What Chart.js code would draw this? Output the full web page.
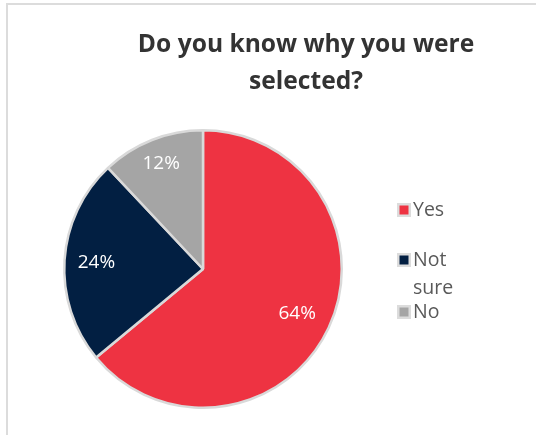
<!DOCTYPE html>
<html>
<head>
<meta charset="utf-8">
<title>Do you know why you were selected?</title>
<script src="https://cdn.jsdelivr.net/npm/chart.js@4/dist/chart.umd.min.js"></script>
<style>
    html, body {
        margin: 0;
        padding: 0;
        background: #ffffff;
        overflow: hidden;
    }
    .frame {
        position: absolute;
        left: 6px;
        top: 3px;
        width: 600px;
        height: 500px;
        border: 2px solid #dcdcdc;
        box-sizing: border-box;
    }
    .chart-wrap {
        position: absolute;
        left: 0;
        top: 0;
        width: 536px;
        height: 435px;
    }
</style>
</head>
<body>
<div class="frame"></div>
<div class="chart-wrap">
    <canvas id="selectedChart" width="536" height="435"></canvas>
</div>

<script>
// Survey answers
const categories = ['Yes', 'Not sure', 'No'];
const shares = [64, 24, 12];
const sliceColors = ['#ee3342', '#021f42', '#a5a5a5'];
const titleLines = ['Do you know why you were', 'selected?'];

const FONT = '"Open Sans", "Noto Sans", sans-serif';

// Percent labels inside each slice
const sliceLabels = {
    id: 'sliceLabels',
    afterDatasetsDraw(chart) {
        const ctx = chart.ctx;
        const meta = chart.getDatasetMeta(0);
        const values = chart.data.datasets[0].data;
        const total = values.reduce((a, b) => a + b, 0);
        const offsets = [0.75, 0.77, 0.82];
        ctx.save();
        ctx.font = '19px ' + FONT;
        ctx.fillStyle = '#ffffff';
        ctx.textAlign = 'center';
        ctx.textBaseline = 'middle';
        meta.data.forEach((arc, i) => {
            const p = arc.getProps(['x', 'y', 'startAngle', 'endAngle', 'outerRadius'], true);
            const mid = (p.startAngle + p.endAngle) / 2;
            const r = p.outerRadius * offsets[i];
            const pct = Math.round(values[i] / total * 100) + '%';
            ctx.fillText(pct, p.x + Math.cos(mid) * r, p.y + Math.sin(mid) * r);
        });
        ctx.restore();
    }
};

// Title, drawn off-centre above the pie and legend
const chartTitle = {
    id: 'chartTitle',
    afterDraw(chart) {
        const ctx = chart.ctx;
        ctx.save();
        ctx.font = 'bold 24.6px ' + FONT;
        ctx.fillStyle = '#333333';
        ctx.textAlign = 'center';
        ctx.textBaseline = 'middle';
        titleLines.forEach((line, i) => {
            ctx.fillText(line, 306, 45 + i * 37);
        });
        ctx.restore();
    }
};

// Legend on the right with wrapped entries
const sideLegend = {
    id: 'sideLegend',
    afterDraw(chart) {
        const ctx = chart.ctx;
        const rowY = [210, 260, 312];
        const boxX = 397;
        const textX = 413;
        const maxW = 45;
        ctx.save();
        ctx.font = '19.5px ' + FONT;
        ctx.textBaseline = 'middle';
        ctx.textAlign = 'left';
        chart.data.labels.forEach((label, i) => {
            const y = rowY[i];
            ctx.fillStyle = '#dcdcdc';
            ctx.fillRect(boxX, y - 7, 14, 14);
            ctx.fillStyle = chart.data.datasets[0].backgroundColor[i];
            ctx.fillRect(boxX + 2.5, y - 4.5, 9, 9);

            // wrap words that don't fit the legend column
            const words = label.split(' ');
            const lines = [];
            let cur = '';
            words.forEach(w => {
                const test = cur ? cur + ' ' + w : w;
                if (cur && ctx.measureText(test).width > maxW) {
                    lines.push(cur);
                    cur = w;
                } else {
                    cur = test;
                }
            });
            lines.push(cur);

            ctx.fillStyle = '#595959';
            lines.forEach((line, j) => {
                ctx.fillText(line, textX, y + j * 28);
            });
        });
        ctx.restore();
    }
};

document.addEventListener('DOMContentLoaded', function() {
    const canvas = document.getElementById('selectedChart');
    new Chart(canvas, {
        type: 'pie',
        data: {
            labels: categories,
            datasets: [{
                data: shares,
                backgroundColor: sliceColors,
                borderColor: '#d9d9d9',
                borderWidth: 2.5,
                hoverOffset: 0
            }]
        },
        options: {
            responsive: false,
            animation: false,
            layout: {
                padding: { left: 63, right: 193, top: 129, bottom: 26 }
            },
            plugins: {
                legend: { display: false },
                title: { display: false },
                tooltip: { enabled: false }
            }
        },
        plugins: [sliceLabels, chartTitle, sideLegend]
    });
});
</script>
</body>
</html>
